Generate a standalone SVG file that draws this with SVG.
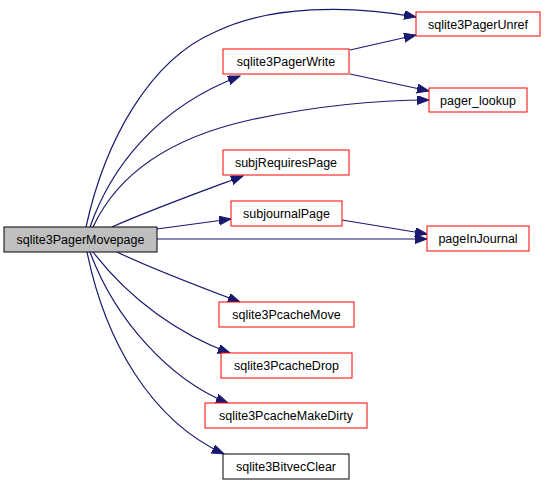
<svg xmlns="http://www.w3.org/2000/svg" width="545" height="486" viewBox="0 0 545 486">
<style>
.n rect{fill:#fff;stroke:#ff0000;stroke-width:1}
.n text{font-family:"Liberation Sans",Arial,sans-serif;font-size:12.5px;text-anchor:middle;fill:#000}
#main rect{fill:#bfbfbf;stroke:#000}
#bitvec rect{stroke:#000}
.e path{fill:none;stroke:#191970;stroke-width:1.2}
</style>
<defs>
<marker id="a" markerUnits="userSpaceOnUse" markerWidth="13" markerHeight="10" refX="12" refY="4.5" orient="auto">
<path d="M0,0 L12,4.5 L0,9 z" fill="#191970" stroke="#191970"/>
</marker>
</defs>
<g class="e">
<path d="M86,227 C105,140 150,60 215,32 C270,5 350,5 416,17" marker-end="url(#a)"/>
<path d="M90,227 C110,170 155,108 240,76" marker-end="url(#a)"/>
<path d="M93,227 C115,180 160,140 250,120 C320,105 380,100 429,100" marker-end="url(#a)"/>
<path d="M112,227 C150,210 200,192 243,176" marker-end="url(#a)"/>
<path d="M157,229 L231,219" marker-end="url(#a)"/>
<path d="M157,239 L427,239" marker-end="url(#a)"/>
<path d="M342,220 L427,234" marker-end="url(#a)"/>
<path d="M350,50 L416,35" marker-end="url(#a)"/>
<path d="M350,74 L429,91" marker-end="url(#a)"/>
<path d="M117,252 C150,268 200,287 240,302" marker-end="url(#a)"/>
<path d="M93,252 C130,300 180,335 230,353" marker-end="url(#a)"/>
<path d="M90,252 C115,320 170,380 228,403" marker-end="url(#a)"/>
<path d="M87,252 C105,340 150,420 224,454" marker-end="url(#a)"/>
</g>
<g id="main" class="n"><rect x="4" y="227" width="153" height="25"/><text x="80.5" y="244">sqlite3PagerMovepage</text></g>
<g id="unref" class="n"><rect x="416" y="12" width="124" height="24"/><text x="478" y="28.5">sqlite3PagerUnref</text></g>
<g id="write" class="n"><rect x="223" y="49" width="126" height="25"/><text x="286" y="66">sqlite3PagerWrite</text></g>
<g id="lookup" class="n"><rect x="429" y="88" width="98" height="24"/><text x="478" y="104.5">pager_lookup</text></g>
<g id="subjreq" class="n"><rect x="223" y="150" width="126" height="25"/><text x="286" y="167">subjRequiresPage</text></g>
<g id="subjournal" class="n"><rect x="231" y="201" width="111" height="25"/><text x="286.5" y="218">subjournalPage</text></g>
<g id="injournal" class="n"><rect x="427" y="226" width="102" height="25"/><text x="478" y="243">pageInJournal</text></g>
<g id="move" class="n"><rect x="219" y="302" width="135" height="25"/><text x="286.5" y="319">sqlite3PcacheMove</text></g>
<g id="drop" class="n"><rect x="221" y="353" width="131" height="25"/><text x="286.5" y="370">sqlite3PcacheDrop</text></g>
<g id="dirty" class="n"><rect x="205" y="403" width="162" height="25"/><text x="286" y="420">sqlite3PcacheMakeDirty</text></g>
<g id="bitvec" class="n"><rect x="223" y="454" width="126" height="25"/><text x="286" y="471">sqlite3BitvecClear</text></g>
</svg>
